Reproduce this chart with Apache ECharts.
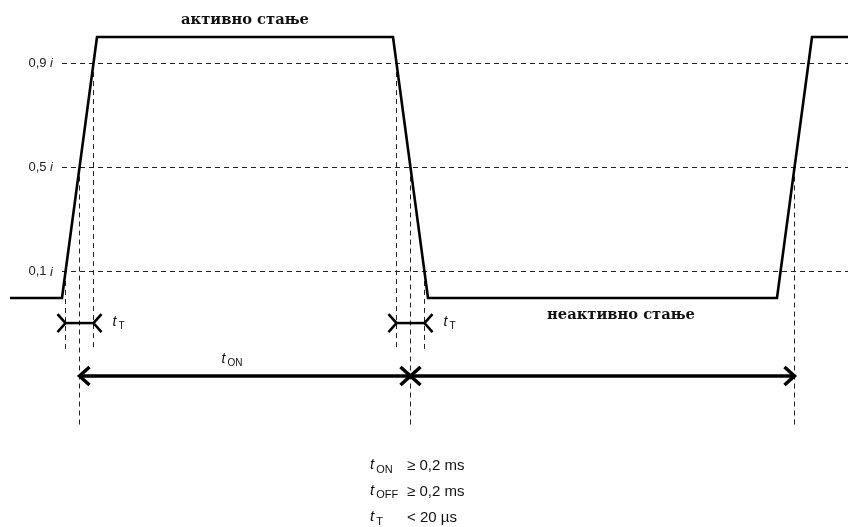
<!DOCTYPE html>
<html><head><meta charset="utf-8">
<script src="https://cdn.jsdelivr.net/npm/echarts@6/dist/echarts.min.js"></script>
<style>html,body{margin:0;padding:0;background:#fff}#c{width:848px;height:527px}</style>
</head><body><div id="c"></div>
<script>
// ---- data ----
const times  = [10, 62, 97, 393, 428, 777, 812, 848];
const levels = [0, 0, 1, 1, 0, 0, 1, 1];
const thresholds = [0.1, 0.5, 0.9];
const thresholdLabels = ['0,1', '0,5', '0,9'];
const edgeMarkedLevels = [[0.1, 0.5, 0.9], [0.1, 0.5, 0.9], [0.5]];
const stateLabels = ['активно стање', 'неактивно стање'];
const specNames = ['ON', 'OFF', 'T'];
const specValues = ['≥ 0,2 ms', '≥ 0,2 ms', '< 20 µs'];

// ---- layout (y in level units: 0 = low, 1 = high) ----
const Y_MIN = -0.8774, Y_MAX = 1.1418, X_MIN = 0, X_MAX = 848;
const TT_Y = -0.096, TON_Y = -0.299, SHORT_END = -0.199, LONG_END = -0.487;
const STATE_POS = [[245, 1.065], [621, -0.065]];
const SPEC_X = 370, SPEC_Y = [-0.644, -0.743, -0.843];

const edges = [];
for (let i = 0; i < times.length - 1; i++) if (levels[i] !== levels[i + 1]) edges.push(i);
function cross(e, lv) {
  const i = edges[e];
  return times[i] + (lv - levels[i]) / (levels[i + 1] - levels[i]) * (times[i + 1] - times[i]);
}

const SANS = '"Liberation Sans", Arial, sans-serif';
const TXT = '#111';
const crisp = v => Math.round(v - 0.5) + 0.5;

function chevron(p, dx, dy, w) {
  return { type: 'polyline', shape: { points: [[p[0] + dx, p[1] - dy], [p[0], p[1]], [p[0] + dx, p[1] + dy]] },
    style: { stroke: '#000', lineWidth: w, fill: null } };
}
function tLabel(x, y, sub, size, subSize) {
  return [
    { type: 'text', style: { text: 't', x: x, y: y, align: 'left', verticalAlign: 'middle',
      font: 'italic ' + size + 'px ' + SANS, fill: TXT } },
    { type: 'text', style: { text: sub, x: x + size * 0.42, y: y + size * 0.3, align: 'left', verticalAlign: 'middle',
      font: subSize + 'px ' + SANS, fill: TXT } }
  ];
}

function renderItem(params, api) {
  const P = (x, y) => api.coord([x, y]);
  const ch = [];
  const dash = { stroke: '#222', lineWidth: 1, lineDash: [5, 4], fill: null };
  // horizontal threshold lines + labels
  thresholds.forEach((lv, k) => {
    const a = P(times[1], lv), b = P(X_MAX, lv);
    const y = crisp(a[1]);
    ch.push({ type: 'line', shape: { x1: a[0], y1: y, x2: b[0], y2: y }, style: dash });
    ch.push({ type: 'text', style: {
      text: '{n|' + thresholdLabels[k] + ' }{i|i}', x: a[0] - 9, y: a[1], align: 'right', verticalAlign: 'middle',
      rich: { n: { fontFamily: SANS, fontSize: 13, fill: '#222' },
              i: { fontFamily: SANS, fontSize: 13, fontStyle: 'italic', fill: '#222' } } } });
  });
  // vertical dashed lines at crossings
  edgeMarkedLevels.forEach((lvs, e) => {
    lvs.forEach(lv => {
      const x = cross(e, lv);
      const a = P(x, lv), b = P(x, lv === 0.5 ? LONG_END : SHORT_END);
      const cx = crisp(a[0]);
      ch.push({ type: 'line', shape: { x1: cx, y1: a[1], x2: cx, y2: b[1] }, style: dash });
    });
  });
  // tT dimensions
  [[cross(0, 0.1), cross(0, 0.9)], [cross(1, 0.9), cross(1, 0.1)]].forEach(([xl, xr]) => {
    const a = P(xl, TT_Y), b = P(xr, TT_Y);
    ch.push({ type: 'line', shape: { x1: a[0], y1: a[1], x2: b[0], y2: b[1] }, style: { stroke: '#000', lineWidth: 2.5 } });
    ch.push(chevron(a, -8, 9, 2.6), chevron(b, 8, 9, 2.6));
    ch.push(...tLabel(b[0] + 19, b[1] - 1, 'T', 14, 10));
  });
  // tON / tOFF arrow
  const a = P(cross(0, 0.5), TON_Y), m = P(cross(1, 0.5), TON_Y), c = P(cross(2, 0.5), TON_Y);
  ch.push({ type: 'line', shape: { x1: a[0], y1: a[1], x2: c[0], y2: c[1] }, style: { stroke: '#000', lineWidth: 3.5 } });
  ch.push(chevron(a, 10, 9, 3.5), chevron(m, -10, 9, 3.5), chevron(m, 10, 9, 3.5), chevron(c, -10, 9, 3.5));
  ch.push(...tLabel(a[0] + 142, a[1] - 17, 'ON', 14, 10));
  // state labels
  stateLabels.forEach((s, k) => {
    const p = P(STATE_POS[k][0], STATE_POS[k][1]);
    ch.push({ type: 'text', style: { text: s, x: p[0], y: p[1], align: 'center', verticalAlign: 'middle',
      font: 'bold 14.7px "DejaVu Serif", serif', fill: '#111' } });
  });
  // spec table
  specNames.forEach((n, k) => {
    const p = P(SPEC_X, SPEC_Y[k]);
    ch.push(...tLabel(p[0], p[1] - 1, n, 15, 11));
    ch.push({ type: 'text', style: { text: specValues[k], x: p[0] + 37, y: p[1], align: 'left', verticalAlign: 'middle',
      font: '15px ' + SANS, fill: TXT } });
  });
  return { type: 'group', children: ch };
}

const chart = echarts.init(document.getElementById('c'), null, { renderer: 'canvas' });
chart.setOption({
  animation: false,
  backgroundColor: '#fff',
  grid: { left: 0, right: 0, top: 0, bottom: 0 },
  xAxis: { type: 'value', min: X_MIN, max: X_MAX, show: false },
  yAxis: { type: 'value', min: Y_MIN, max: Y_MAX, show: false },
  series: [
    { type: 'custom', silent: true, data: [[0, 0]], renderItem: renderItem, z: 2 },
    { type: 'line', silent: true, symbol: 'none', z: 3,
      data: times.map((t, i) => [t, levels[i]]),
      lineStyle: { color: '#000', width: 2.6, join: 'miter' } }
  ]
});
</script></body></html>
